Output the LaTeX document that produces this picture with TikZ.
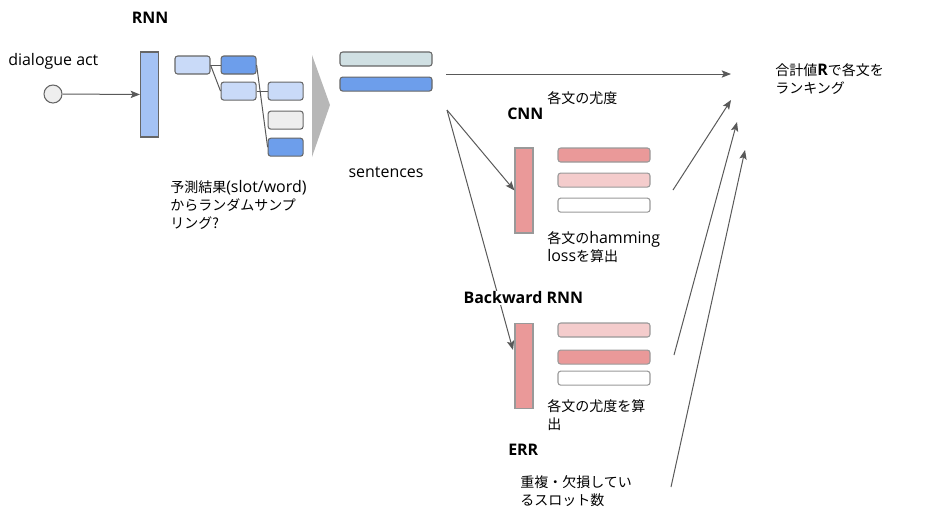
\documentclass[tikz,border=0pt]{standalone}
\usepackage{fontspec}
\setmainfont{Open Sans}[Scale=1.14]
\newfontfamily\jpfont{Noto Sans CJK JP}
\usetikzlibrary{arrows.meta,positioning}
\definecolor{lineGray}{HTML}{595959}
\definecolor{boxEdge}{HTML}{666666}
\definecolor{barEdge}{HTML}{999999}
\definecolor{paleBlue}{HTML}{C9DAF8}
\definecolor{midBlue}{HTML}{A4C2F4}
\definecolor{deepBlue}{HTML}{6D9EEB}
\definecolor{paleGray}{HTML}{EEEEEE}
\definecolor{paleCyan}{HTML}{D0E0E3}
\definecolor{paleRed}{HTML}{F4CCCC}
\definecolor{midRed}{HTML}{EA9999}
\definecolor{coneGray}{HTML}{B7B7B7}
\tikzset{
  txt/.style={inner sep=0pt, anchor=west, align=left, text=black},
  jtxt/.style={txt, font=\fontsize{10.5}{13.5}\selectfont\jpfont},
  title/.style={inner sep=0pt, anchor=west, font=\fontsize{10.5}{13.5}\selectfont\bfseries},
  cell/.style={draw=boxEdge, line width=0.8pt, rounded corners=2pt, inner sep=0pt,
    minimum width=26.25pt, minimum height=13.5pt},
  slab/.style={draw=boxEdge, line width=0.8pt, rounded corners=2pt, inner sep=0pt,
    minimum width=69pt, minimum height=10.5pt},
  pillar/.style={draw=barEdge, line width=0.8pt, inner sep=0pt,
    minimum width=13.5pt, minimum height=63.75pt},
  link/.style={draw=lineGray, line width=0.75pt},
  flow/.style={draw=lineGray, line width=0.75pt, -{Stealth[length=7pt,width=5.5pt,inset=1.5pt]}}
}
\begin{document}
\begin{tikzpicture}[x=0.75pt, y=-0.75pt, font=\fontsize{10.5}{13.5}\selectfont]
  \useasboundingbox (0,0) rectangle (927,512);

  % input and RNN
  \node[txt] (act) at (8,61) {dialogue act};
  \node[circle, draw=boxEdge, fill=paleGray, line width=0.8pt, minimum size=13.5pt, inner sep=0pt] (da) at (53,94) {};
  \node[pillar, draw=boxEdge, fill=midBlue] (rnn) at (149.5,94.5) {};
  \node[title, anchor=center] (rnnlbl) at (150,18) {RNN};
  \draw[flow] (da) -- (rnn);

  % sampled tokens
  \node[cell, fill=paleBlue] (t1) at (192.5,65) {};
  \node[cell, fill=deepBlue, right=7.5pt of t1] (t2) {};
  \node[cell, fill=paleBlue, below=5.25pt of t2] (t3) {};
  \node[cell, fill=paleBlue, right=8.25pt of t3] (t4) {};
  \node[cell, fill=paleGray, below=7.5pt of t4] (t5) {};
  \node[cell, fill=deepBlue, below=6pt of t5] (t6) {};
  \draw[link] (t1.east) -- (t2.west);
  \draw[link] (t1.east) -- (t3.west);
  \draw[link] (t3.east) -- (t4.west);
  \draw[link] (t2.east) -- (t6.west);
  \node[jtxt] (sample) at (170,205)
    {予測結果{\rmfamily(slot/word)}\\からランダムサンプ\\リング?};

  \fill[coneGray] (312,55) -- (330,105) -- (312,157) -- cycle;

  % sentences
  \node[slab, fill=paleCyan] (s1) at (386,59) {};
  \node[slab, fill=deepBlue, below=7.5pt of s1] (s2) {};
  \node[txt, anchor=center] (sents) at (386,172) {sentences};
  \coordinate (sout) at (446,74);
  \coordinate (split) at (447,110);

  % CNN
  \node[title] (cnnlbl) at (507,114) {CNN};
  \node[jtxt] (lik) at (547,98) {各文の尤度};
  \node[pillar, fill=midRed] (cnn) at (524,190.5) {};
  \node[slab, draw=barEdge, fill=midRed] (c1) at (604,155) {};
  \node[slab, draw=barEdge, fill=paleRed, below=7.5pt of c1] (c2) {};
  \node[slab, draw=barEdge, fill=white, below=7.5pt of c2] (c3) {};
  \node[jtxt] (ham) at (547,247)
    {各文の{\rmfamily hamming}\\{\rmfamily loss}を算出};

  % Backward RNN
  \coordinate (bin) at (513,350);
  \draw[flow] (split) -- (bin);
  \node[title, fill=white, inner sep=1pt] (bwdlbl) at (462,298) {Backward RNN};
  \node[pillar, fill=midRed] (bwd) at (524,366) {};
  \node[slab, draw=barEdge, fill=paleRed] (b1) at (604,330) {};
  \node[slab, draw=barEdge, fill=midRed, below=9pt of b1] (b2) {};
  \node[slab, draw=barEdge, fill=white, below=4.5pt of b2] (b3) {};
  \node[jtxt] (bscore) at (547,415) {各文の尤度を算\\出};

  % ERR
  \node[title] (errlbl) at (508,450) {ERR};
  \node[jtxt] (slots) at (520,491) {重複・欠損してい\\るスロット数};

  % ranking
  \node[jtxt] (rank) at (775,79) {合計値{\rmfamily\bfseries R}で各文を\\ランキング};
  \coordinate (r1) at (731,74);
  \coordinate (r2) at (731,100);
  \coordinate (r3) at (737,122);
  \coordinate (r4) at (745,150);
  \coordinate (cout) at (673,190);
  \coordinate (bout) at (674,355);
  \coordinate (eout) at (671,487);

  \draw[flow] (sout) -- (r1);
  \draw[flow] (split) -- (cnn.west);
  \draw[flow] (cout) -- (r2);
  \draw[flow] (bout) -- (r3);
  \draw[flow] (eout) -- (r4);
\end{tikzpicture}
\end{document}
